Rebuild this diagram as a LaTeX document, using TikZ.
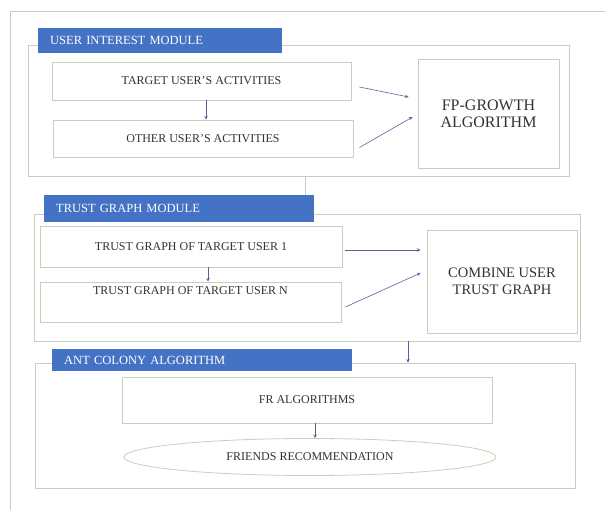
\documentclass[tikz,border=0pt]{standalone}
\usepackage{fontspec}
\setmainfont{Liberation Serif}
\usetikzlibrary{shapes.geometric}
\definecolor{myframe}{RGB}{200,207,189}
\definecolor{myblue}{RGB}{68,114,196}
\definecolor{myarrow}{RGB}{80,100,155}
\definecolor{mytext}{RGB}{50,50,50}

\tikzset{
	module/.style={draw=myframe, line width=0.8pt},
	box/.style={draw=myframe, line width=0.8pt, fill=white, text=mytext, font=\fontsize{12}{14}\selectfont},
	bigbox/.style={box, align=center, font=\fontsize{16}{17}\selectfont},
	tab/.style={fill=myblue, text=white, anchor=north west, inner xsep=12pt, font=\fontsize{12.5}{14}\selectfont},
	link/.style={-stealth, myarrow, line width=0.6pt}
}

\begin{document}
\begin{tikzpicture}[x=1pt, y=-1pt]
	\useasboundingbox (0,0) rectangle (605,510);
	\draw[module] (10,510) -- (10,11) -- (605,11);

	% user interest module
	\node[module, minimum width=541pt, minimum height=131pt] (mod1) at (298.5,110.5) {};
	\node[tab, minimum width=244pt, minimum height=25pt, text width=220pt] (tab1) at (38,28) {USER INTEREST MODULE};
	\node[box, minimum width=299pt, minimum height=38pt] (target) at (201.5,81) {TARGET USER'S ACTIVITIES};
	\node[box, minimum width=300pt, minimum height=37pt] (other) at (203,138.5) {OTHER USER'S ACTIVITIES};
	\node[bigbox, minimum width=141pt, minimum height=109pt] (fp) at (488.5,113.5) {FP-GROWTH\\ALGORITHM};

	\draw[link] ([xshift=4.5pt]target.south) -- ([xshift=3pt]other.north);
	\draw[link] ([shift={(8,6)}]target.east) -- ([shift={(-9,-16.5)}]fp.west);
	\draw[link] ([shift={(6,9)}]other.east) -- ([shift={(-5,3.5)}]fp.west);

	% trust graph module
	\node[module, minimum width=546pt, minimum height=127pt] (mod2) at (307,277.5) {};
	\node[tab, minimum width=270pt, minimum height=27pt, text width=246pt] (tab2) at (44,195) {TRUST GRAPH MODULE};
	\node[box, minimum width=302pt, minimum height=41pt] (trust1) at (191,246.5) {TRUST GRAPH OF TARGET USER 1};
	\node[box, minimum width=301pt, minimum height=40pt, text depth=22pt] (trustn) at (190.5,302) {TRUST GRAPH OF TARGET USER N};
	\node[bigbox, font=\fontsize{14.5}{17}\selectfont, minimum width=150pt, minimum height=103pt] (combine) at (502,281.5) {COMBINE USER\\TRUST GRAPH};

	\draw[module] ([xshift=6.5pt]mod1.south) -- ([xshift=6.5pt]mod1.south |- tab2.north);
	\draw[link] ([xshift=17pt]trust1.south) -- ([xshift=17pt]trust1.south |- trustn.north);
	\draw[link] ([shift={(3,3.5)}]trust1.east) -- ([shift={(-6,-31.5)}]combine.west);
	\draw[link] ([shift={(4,5)}]trustn.east) -- ([shift={(-6,-8.5)}]combine.west);

	% ant colony algorithm
	\node[module, minimum width=540pt, minimum height=125pt] (mod3) at (305,425.5) {};
	\node[tab, minimum width=300pt, minimum height=22pt, text width=276pt] (tab3) at (52,349) {ANT COLONY ALGORITHM};
	\node[box, minimum width=370pt, minimum height=46pt] (fr) at (307,400) {FR ALGORITHMS};
	\node[box, ellipse, minimum width=372pt, minimum height=37pt] (rec) at (310,457) {FRIENDS RECOMMENDATION};

	\draw[link] ([xshift=101pt]mod2.south) -- ([xshift=101pt]mod2.south |- mod3.north);
	\draw[link] ([xshift=8pt]fr.south) -- ([xshift=8pt]fr.south |- rec.north);
\end{tikzpicture}
\end{document}
